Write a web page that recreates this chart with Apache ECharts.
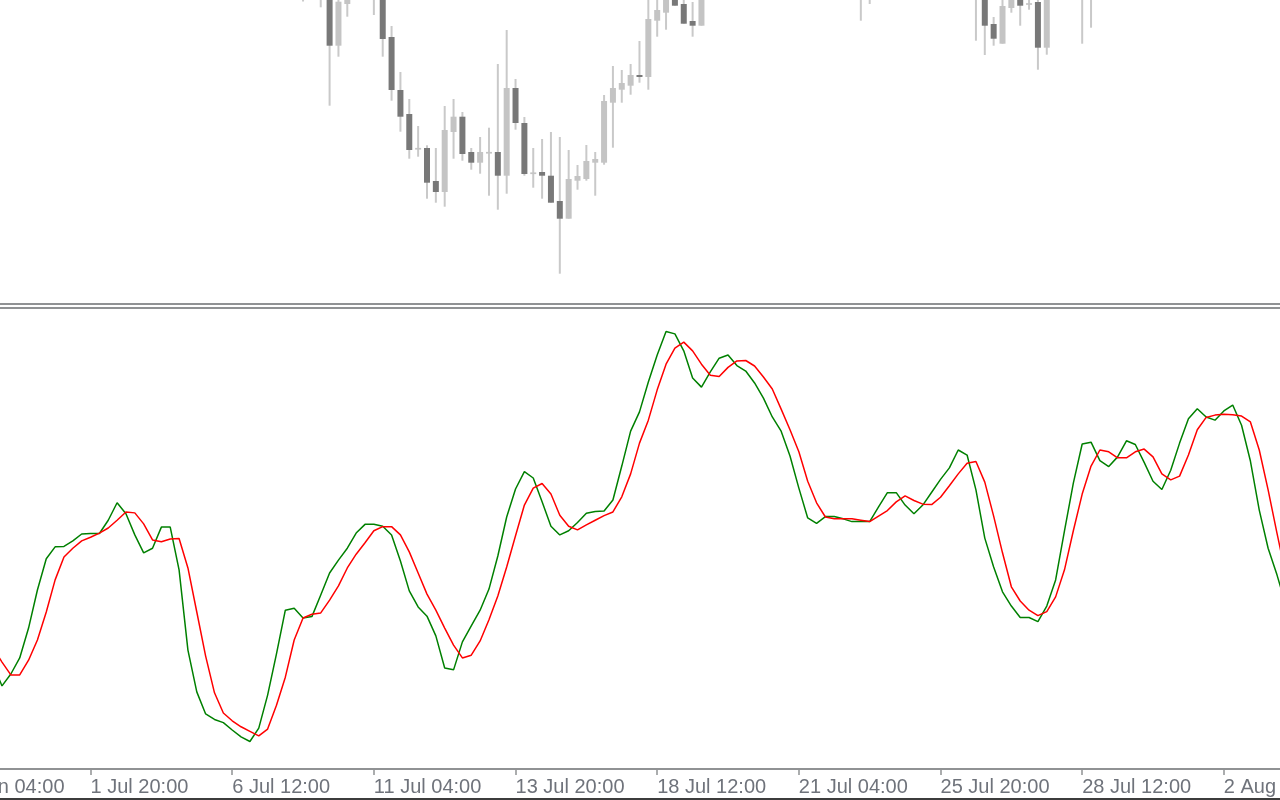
<!DOCTYPE html>
<html><head><meta charset="utf-8">
<script src="https://cdn.jsdelivr.net/npm/echarts@6/dist/echarts.min.js"></script>
<style>html,body{margin:0;padding:0;background:#fff;}#c{width:1280px;height:800px;}</style>
</head><body><div id="c"></div>
<script>
// ---- data ----
const firstBar = -6, lastBar = 145;           // bar numbers covered by the time axis
const tickBars = [-6, 10, 26, 42, 58, 74, 90, 106, 122, 138];
const tickLabels = ['29 Jun 04:00', '1 Jul 20:00', '6 Jul 12:00', '11 Jul 04:00', '13 Jul 20:00',
  '18 Jul 12:00', '21 Jul 04:00', '25 Jul 20:00', '28 Jul 12:00', '2 Aug 04:00'];

// Stochastic main line (%K) and signal (%D), bars -1 .. 145
const kFirstBar = -1;
const mainK = [
  22.7, 18.1, 20.7, 24.2, 30.7, 39.0, 45.8, 48.4, 48.5, 49.7,
  51.2, 51.3, 51.3, 54.2, 58.0, 55.6, 51.0, 47.1, 48.1, 52.7,
  52.7, 43.4, 25.9, 16.8, 12.0, 10.8, 10.1, 8.5, 7.0, 6.0,
  8.9, 16.1, 25.1, 34.6, 35.0, 32.9, 33.2, 37.9, 42.7, 45.5,
  48.1, 51.4, 53.3, 53.3, 52.9, 51.0, 45.3, 38.8, 35.3, 33.3,
  29.0, 22.0, 21.6, 27.7, 31.2, 34.6, 39.2, 46.4, 54.9, 61.0,
  64.8, 63.4, 58.2, 52.9, 51.0, 51.9, 53.7, 55.7, 56.1, 56.2,
  58.6, 66.0, 73.6, 77.8, 84.3, 90.2, 95.3, 94.8, 91.1, 85.2,
  83.2, 86.5, 89.5, 90.2, 87.9, 86.7, 84.1, 80.8, 76.7, 73.6,
  68.2, 61.2, 54.7, 53.5, 55.0, 55.0, 54.5, 53.9, 53.9, 53.9,
  57.1, 60.2, 60.2, 57.5, 55.6, 57.5, 60.3, 63.1, 65.6, 69.5,
  68.4, 60.8, 50.3, 44.0, 38.6, 35.5, 33.0, 33.0, 32.1, 35.5,
  41.2, 51.9, 62.3, 70.8, 71.2, 67.2, 65.9, 68.0, 71.5, 70.7,
  66.8, 62.7, 60.9, 65.1, 71.0, 76.3, 78.5, 76.7, 76.0, 78.0,
  79.3, 74.9, 67.1, 56.4, 48.1, 42.3, 35.7
];
const signalD = [
  26.4, 23.3, 20.5, 20.5, 23.7, 28.1, 34.2, 41.2, 46.2, 48.1,
  49.7, 50.5, 51.4, 52.5, 54.2, 56.0, 55.8, 53.4, 49.9, 49.5,
  50.1, 50.2, 43.8, 34.2, 24.6, 16.6, 12.2, 10.5, 9.2, 8.2,
  7.2, 8.7, 13.9, 20.0, 28.1, 32.9, 33.7, 34.0, 36.8, 39.9,
  43.8, 46.8, 49.3, 51.9, 52.8, 52.8, 51.0, 47.3, 42.7, 38.1,
  34.6, 30.7, 27.0, 24.2, 24.8, 27.9, 32.5, 37.7, 44.0, 50.8,
  57.5, 61.2, 62.2, 59.9, 55.3, 52.9, 52.1, 53.2, 54.2, 55.2,
  56.0, 59.3, 64.3, 71.0, 76.0, 82.6, 88.2, 91.7, 93.0, 91.1,
  88.2, 85.8, 85.5, 87.5, 88.9, 89.0, 87.8, 85.4, 82.8, 78.4,
  73.9, 69.1, 62.7, 58.0, 54.9, 54.5, 54.5, 54.5, 54.2, 53.9,
  55.1, 56.3, 58.2, 59.5, 58.5, 57.7, 57.6, 59.2, 61.7, 64.3,
  66.6, 67.0, 62.5, 55.1, 47.1, 39.7, 36.6, 34.6, 33.4, 34.3,
  37.5, 43.4, 51.9, 59.9, 66.0, 69.5, 69.1, 67.8, 67.8, 69.1,
  69.7, 68.0, 64.3, 63.0, 63.8, 68.4, 73.9, 76.6, 77.1, 77.3,
  77.2, 76.9, 75.6, 69.5, 60.8, 51.4, 42.3
];

// Price candles visible in the upper pane: [bar, open, close, low, high]
const candles = [
  [34, 1.1620, 1.1610, 1.15985, 1.1630],
  [36, 1.1625, 1.1615, 1.15927, 1.1635],
  [37, 1.1615, 1.15543, 1.14943, 1.1625],
  [38, 1.15543, 1.15983, 1.15433, 1.1605],
  [39, 1.1596, 1.1612, 1.15833, 1.1620],
  [42, 1.1620, 1.1610, 1.1585, 1.1630],
  [43, 1.1610, 1.1561, 1.15433, 1.1620],
  [44, 1.1563, 1.1510, 1.14993, 1.1574],
  [45, 1.1510, 1.14833, 1.14683, 1.1528],
  [46, 1.1486, 1.1450, 1.14413, 1.1501],
  [47, 1.1451, 1.14515, 1.14433, 1.1474],
  [48, 1.1452, 1.14173, 1.14013, 1.14547],
  [49, 1.1419, 1.1408, 1.13973, 1.1452],
  [50, 1.1408, 1.1470, 1.13933, 1.1494],
  [51, 1.1468, 1.14833, 1.14413, 1.1501],
  [52, 1.14833, 1.1446, 1.14393, 1.1488],
  [53, 1.1448, 1.14373, 1.14303, 1.1452],
  [54, 1.14373, 1.1448, 1.14263, 1.1463],
  [55, 1.1447, 1.14475, 1.14043, 1.14723],
  [56, 1.1448, 1.14243, 1.13903, 1.1536],
  [57, 1.14243, 1.1512, 1.14063, 1.1570],
  [58, 1.1512, 1.1477, 1.14703, 1.1521],
  [59, 1.1477, 1.1426, 1.14243, 1.1483],
  [60, 1.14265, 1.1427, 1.14123, 1.1452],
  [61, 1.1428, 1.14243, 1.14013, 1.1461],
  [62, 1.14243, 1.13973, 1.13973, 1.1468],
  [63, 1.1399, 1.13813, 1.13263, 1.1463],
  [64, 1.13813, 1.1421, 1.13813, 1.1450],
  [65, 1.14193, 1.1424, 1.14103, 1.1435],
  [66, 1.1421, 1.1439, 1.14193, 1.1455],
  [67, 1.14373, 1.1441, 1.14043, 1.1448],
  [68, 1.14373, 1.1499, 1.14353, 1.1505],
  [69, 1.14973, 1.1512, 1.14523, 1.1534],
  [70, 1.15103, 1.1517, 1.14973, 1.1530],
  [71, 1.15143, 1.1525, 1.15053, 1.1536],
  [72, 1.1525, 1.1523, 1.15173, 1.1559],
  [73, 1.1523, 1.1581, 1.15103, 1.1610],
  [74, 1.15793, 1.1590, 1.15633, 1.1605],
  [75, 1.15873, 1.1608, 1.15703, 1.1615],
  [76, 1.1615, 1.15943, 1.15943, 1.1625],
  [77, 1.1596, 1.15763, 1.15763, 1.1608],
  [78, 1.1579, 1.15743, 1.15633, 1.1598],
  [79, 1.15743, 1.1610, 1.15743, 1.1620],
  [97, 1.1625, 1.1615, 1.15793, 1.1635],
  [98, 1.1625, 1.1615, 1.1596, 1.1635],
  [110, 1.1625, 1.1615, 1.15593, 1.1635],
  [111, 1.1610, 1.15743, 1.1545, 1.1620],
  [112, 1.1576, 1.15613, 1.15543, 1.1583],
  [113, 1.15563, 1.1594, 1.15563, 1.1605],
  [114, 1.1592, 1.1605, 1.15873, 1.1610],
  [115, 1.1610, 1.15943, 1.15743, 1.1620],
  [116, 1.15958, 1.15962, 1.15903, 1.1605],
  [117, 1.1598, 1.15523, 1.15303, 1.1605],
  [118, 1.15523, 1.1610, 1.15453, 1.1620],
  [122, 1.1625, 1.1615, 1.15563, 1.1635],
  [123, 1.1625, 1.1615, 1.15723, 1.1635]
];

// ---- build ----
const barStep = 8.854;
const nBars = lastBar - firstBar + 1;
const firstBarX = 2 + firstBar * barStep;     // centre of the first category
const gridLeft = firstBarX - barStep / 2;
const gridWidth = nBars * barStep;

const categories = [];
for (let b = firstBar; b <= lastBar; b++) categories.push(String(b));
const pad = new Array(kFirstBar - firstBar).fill(null);
const kData = pad.concat(mainK);
const dData = pad.concat(signalD);
const candleData = candles.map(c => [c[0] - firstBar, c[1], c[2], c[3], c[4]]);
const labelMap = {};
tickBars.forEach((b, i) => { labelMap[b - firstBar] = tickLabels[i]; });
const isTick = (idx) => labelMap[idx] !== undefined;

const lineCol = '#909294';
const chart = echarts.init(document.getElementById('c'), null, {renderer: 'canvas'});
chart.setOption({
  animation: false,
  backgroundColor: '#ffffff',
  grid: [
    {left: gridLeft, width: gridWidth, top: 0, height: 300, containLabel: false, outerBoundsMode: 'none'},
    {left: gridLeft, width: gridWidth, top: 310, height: 459, containLabel: false, outerBoundsMode: 'none'}
  ],
  xAxis: [
    {type: 'category', gridIndex: 0, data: categories, boundaryGap: true, position: 'bottom', offset: 4,
     axisLine: {show: true, lineStyle: {color: lineCol, width: 2}}, axisTick: {show: false}, axisLabel: {show: false}, splitLine: {show: false}},
    {type: 'category', gridIndex: 1, data: categories, boundaryGap: true, position: 'bottom',
     axisLine: {show: true, lineStyle: {color: lineCol, width: 2}},
     axisTick: {show: true, alignWithLabel: true, interval: (i) => isTick(i), length: 6, lineStyle: {color: lineCol, width: 1.5}},
     axisLabel: {show: true, interval: (i) => isTick(i), formatter: (v, i) => labelMap[i] || '', align: 'left', margin: 8,
       color: '#6f737b', fontFamily: 'Liberation Sans', fontSize: 20, hideOverlap: false},
     splitLine: {show: false}},
    {type: 'category', gridIndex: 1, data: categories, boundaryGap: true, position: 'top', offset: 2,
     axisLine: {show: true, lineStyle: {color: lineCol, width: 2}}, axisTick: {show: false}, axisLabel: {show: false}, splitLine: {show: false}}
  ],
  yAxis: [
    {type: 'value', gridIndex: 0, min: 1.13, max: 1.16, show: false, splitLine: {show: false}},
    {type: 'value', gridIndex: 1, min: 0, max: 100, show: false, splitLine: {show: false}}
  ],
  series: [
    {
      type: 'custom', xAxisIndex: 0, yAxisIndex: 0, clip: true,
      data: candleData,
      encode: {x: 0, y: [1, 2, 3, 4]},
      renderItem: function (params, api) {
        const idx = api.value(0);
        const o = api.value(1), c = api.value(2), l = api.value(3), h = api.value(4);
        const pO = api.coord([idx, o]), pC = api.coord([idx, c]);
        const pL = api.coord([idx, l]), pH = api.coord([idx, h]);
        const cs = params.coordSys;
        const top = cs.y, bot = cs.y + cs.height;
        const cl = (y) => Math.max(top, Math.min(bot, y));
        const x = pO[0];
        const children = [];
        const wTop = cl(pH[1]), wBot = cl(pL[1]);
        if (wBot > wTop) children.push({type: 'line', shape: {x1: x, y1: wTop, x2: x, y2: wBot},
          style: {stroke: '#c9c9c9', lineWidth: 2}});
        const bTopRaw = Math.min(pO[1], pC[1]), bBotRaw = Math.max(pO[1], pC[1]);
        if (bBotRaw > top) {
          let bTop = cl(bTopRaw), bBot = cl(bBotRaw);
          if (bBot - bTop < 1.7) { const m = (bTop + bBot) / 2; bTop = m - 0.85; bBot = m + 0.85; }
          children.push({type: 'rect', shape: {x: x - 3, y: bTop, width: 6, height: bBot - bTop},
            style: {fill: c >= o ? '#c4c4c4' : '#787878'}});
        }
        return {type: 'group', children: children};
      }
    },
    {type: 'line', xAxisIndex: 1, yAxisIndex: 1, data: kData, symbol: 'none', showSymbol: false,
     lineStyle: {color: '#008000', width: 1.5}, itemStyle: {color: '#008000'}, connectNulls: false, z: 2},
    {type: 'line', xAxisIndex: 1, yAxisIndex: 1, data: dData, symbol: 'none', showSymbol: false,
     lineStyle: {color: '#ff0000', width: 1.5}, itemStyle: {color: '#ff0000'}, connectNulls: false, z: 3}
  ],
  graphic: [
    {type: 'rect', left: 0, top: 798, shape: {width: 1280, height: 2}, style: {fill: '#3c3c3c'}, silent: true}
  ]
});
</script>
</body></html>
